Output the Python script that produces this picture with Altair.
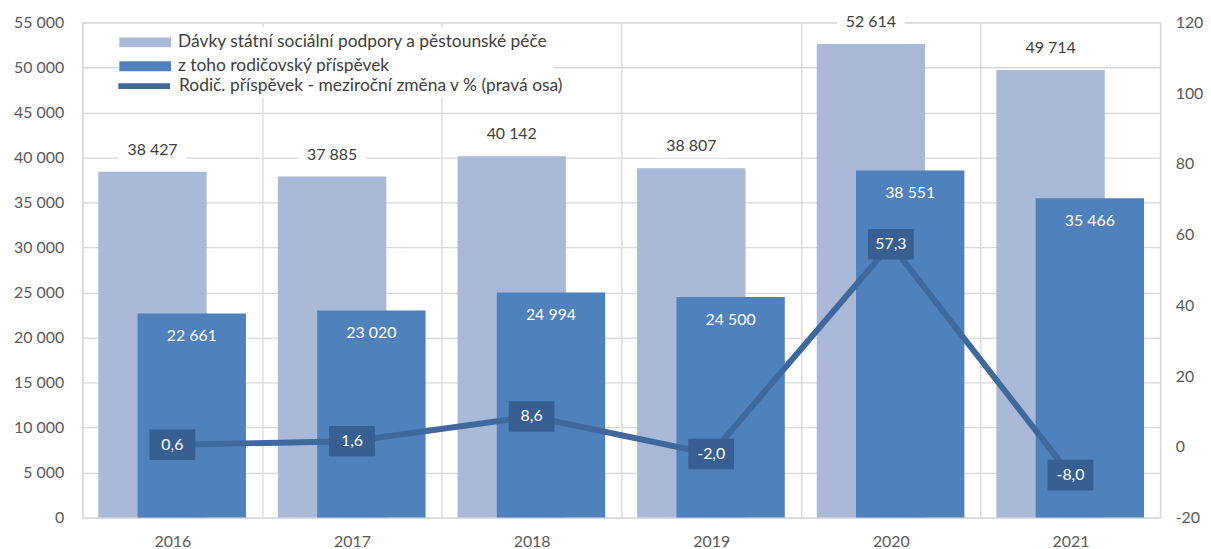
import altair as alt
import pandas as pd

years = ["2016", "2017", "2018", "2019", "2020", "2021"]
benefits = [38427, 37885, 40142, 38807, 52614, 49714]
parental = [22661, 23020, 24994, 24500, 38551, 35466]
change = [0.6, 1.6, 8.6, -2.0, 57.3, -8.0]

S1 = "Dávky státní sociální podpory a pěstounské péče"
S2 = "z toho rodičovský příspěvek"
S3 = "Rodič. příspěvek - meziroční změna v % (pravá osa)"

df = pd.DataFrame({"year": years, "benefits": benefits, "parental": parental, "change": change})

FONT = "Lato"
LIGHT = "#A9B9D7"
DARK = "#4F81BD"
LINE = "#3F699D"
BOX = "#375F92"
GRID = "#D9D9D9"
AXIS_TXT = "#595959"
TXT = "#404040"

RECT_LEG = "M-4.2,-0.5L1,-0.5L1,0.5L-4.2,0.5Z"
LINE_LEG = "M-4.2,0L1,0"
LABEL_BG = "M-1,-0.33L1,-0.33L1,0.33L-1,0.33Z"
BOX_SHAPE = "M-1,-0.67L1,-0.67L1,0.67L-1,0.67Z"

base = alt.Chart(df)

x = alt.X("year:N", sort=years, title=None,
          scale=alt.Scale(paddingInner=0, paddingOuter=0),
          axis=alt.Axis(tickBand="extent", grid=True, labelPadding=16, labelAngle=0))

yL_scale = alt.Scale(domain=[0, 55000], nice=False, zero=False)
yL_axis = alt.Axis(values=list(range(0, 55001, 5000)), format=",.0f", title=None,
                   grid=True, labelPadding=19, orient="left")
yR_scale = alt.Scale(domain=[-20, 120], nice=False, zero=False)
yR_axis = alt.Axis(values=list(range(-20, 121, 20)), format="d", title=None,
                   grid=False, labelPadding=15, orient="right")

bar_legend = alt.Legend(orient="none", legendX=64, legendY=5, title=None,
                        symbolType=RECT_LEG, symbolSize=400, symbolStrokeWidth=0,
                        symbolOpacity=1, labelFont=FONT, labelFontSize=17.5, labelColor=TXT,
                        labelLimit=800, fillColor="white", padding=5, rowPadding=5,
                        labelOffset=7)
line_legend = alt.Legend(orient="none", legendX=65, legendY=51, title=None,
                         symbolType=LINE_LEG, symbolSize=400, symbolStrokeWidth=6,
                         symbolOpacity=1, labelFont=FONT, labelFontSize=17.5, labelColor=TXT,
                         labelLimit=800, fillColor="white", padding=0,
                         labelOffset=6)
color_scale = alt.Scale(domain=[S1, S2], range=[LIGHT, DARK])

light_bars = base.transform_calculate(series=f"'{S1}'").mark_bar(size=109, xOffset=-20).encode(
    x=x, y=alt.Y("benefits:Q", scale=yL_scale, axis=yL_axis),
    color=alt.Color("series:N", scale=color_scale, legend=bar_legend))
dark_bars = base.transform_calculate(series=f"'{S2}'").mark_bar(size=109, xOffset=19.5).encode(
    x=x, y=alt.Y("parental:Q", scale=yL_scale, axis=yL_axis),
    color=alt.Color("series:N", scale=color_scale, legend=bar_legend))
light_bg = base.mark_point(shape=LABEL_BG, size=4624, filled=True, fill="white",
                           opacity=1, strokeWidth=0, xOffset=-20, yOffset=-22).encode(
    x=x, y=alt.Y("benefits:Q", scale=yL_scale, axis=yL_axis))
light_txt = base.mark_text(font=FONT, fontSize=16, color=TXT, baseline="middle",
                           xOffset=-20, yOffset=-22).encode(
    x=x, y=alt.Y("benefits:Q", scale=yL_scale, axis=yL_axis),
    text=alt.Text("benefits:Q", format=",.0f"))
dark_txt = base.mark_text(font=FONT, fontSize=16, color="white", baseline="middle",
                          xOffset=19.5, yOffset=23).encode(
    x=x, y=alt.Y("parental:Q", scale=yL_scale, axis=yL_axis),
    text=alt.Text("parental:Q", format=",.0f"))

left = alt.layer(light_bars, dark_bars, light_bg, light_txt, dark_txt)

line = base.transform_calculate(series2=f"'{S3}'").mark_line(strokeWidth=6, strokeCap="butt").encode(
    x=x, y=alt.Y("change:Q", scale=yR_scale, axis=yR_axis),
    stroke=alt.Stroke("series2:N", scale=alt.Scale(domain=[S3], range=[LINE]),
                      legend=line_legend))
boxes = base.mark_point(shape=BOX_SHAPE, size=2116, filled=True, fill=BOX,
                        opacity=1, strokeWidth=0).encode(
    x=x, y=alt.Y("change:Q", scale=yR_scale, axis=yR_axis))
box_txt = base.mark_text(font=FONT, fontSize=16, color="white", baseline="middle").encode(
    x=x, y=alt.Y("change:Q", scale=yR_scale, axis=yR_axis),
    text=alt.Text("change:Q", format=".1f"))

right = alt.layer(line, boxes, box_txt)

chart = alt.layer(left, right).resolve_scale(
    y="independent"
).properties(
    width=1084, height=498,
    padding={"left": 5, "top": 1, "right": 0, "bottom": 0},
).configure(
    locale=alt.Locale(number=alt.NumberLocale(decimal=",", thousands=" ", grouping=[3],
                                              currency=["", ""], minus="-"))
).configure_axis(
    domain=False, ticks=False, tickSize=0, labelFont=FONT, labelFontSize=16,
    labelColor=AXIS_TXT, gridColor=GRID, gridWidth=1.3
).configure_view(
    stroke=GRID, strokeWidth=1.3
)

chart.save("out.html", embed_options={"renderer": "svg", "actions": False})
